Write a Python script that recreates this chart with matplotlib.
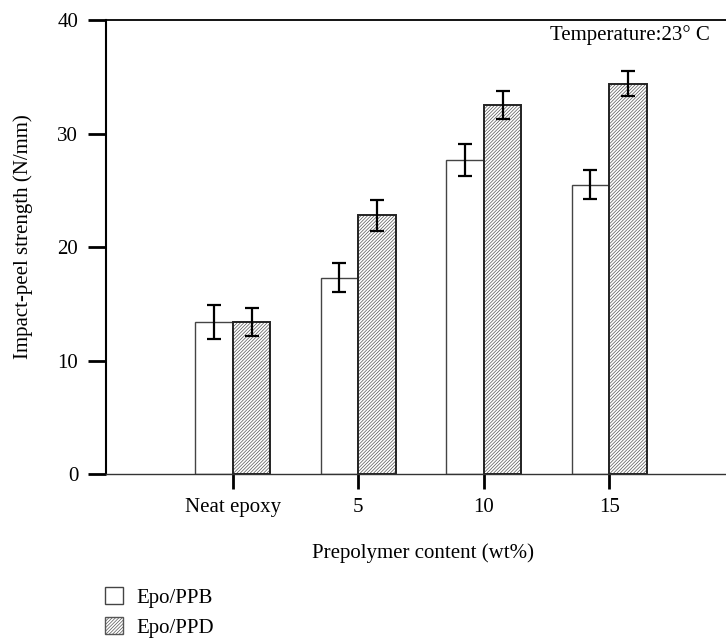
import matplotlib.pyplot as plt
import numpy as np
from matplotlib.patches import Patch

plt.rcParams['font.family'] = ['Liberation Serif', 'DejaVu Serif']
plt.rcParams['hatch.linewidth'] = 0.5

# impact-peel strength (N/mm) vs prepolymer content
groups = ['Neat epoxy', '5', '10', '15']
ppb = [13.4, 17.3, 27.7, 25.5]
ppb_err = [1.5, 1.3, 1.4, 1.25]
ppd = [13.4, 22.8, 32.5, 34.4]
ppd_err = [1.25, 1.35, 1.25, 1.1]

fig = plt.figure(figsize=(7.26, 6.41), dpi=100)
ax = fig.add_axes([0.146, 0.2605, 0.854, 0.7083])

x = np.arange(len(groups))
w = 0.30

ax.bar(x - w / 2, ppb, w, color='white', edgecolor='#444444', linewidth=1.0, zorder=2)
# hatch drawn in grey, dark outline on top
ax.bar(x + w / 2, ppd, w, color='white', edgecolor='#555555', hatch='//////////',
       linewidth=0, zorder=2)
ax.bar(x + w / 2, ppd, w, fill=False, edgecolor='#222222', linewidth=1.4, zorder=2)
ax.errorbar(x - w / 2, ppb, yerr=ppb_err, fmt='none', ecolor='black',
            elinewidth=1.6, capsize=5, capthick=1.6, zorder=3)
ax.errorbar(x + w / 2, ppd, yerr=ppd_err, fmt='none', ecolor='black',
            elinewidth=1.6, capsize=5, capthick=1.6, zorder=3)

ax.set_xlim(-1.01, 3.93)
ax.set_ylim(0, 40)
ax.set_yticks([0, 10, 20, 30, 40])
ax.set_xticks(x)
ax.set_xticklabels(groups)

ax.spines['right'].set_visible(False)
ax.spines['left'].set_linewidth(1.5)
ax.spines['top'].set_linewidth(1.3)
ax.spines['bottom'].set_linewidth(1.0)
ax.spines['bottom'].set_color('#333333')

ax.tick_params(axis='x', direction='out', length=11, width=2.0, labelsize=15, pad=6)
ax.tick_params(axis='y', direction='out', length=13, width=2.0, labelsize=15, pad=7)

ax.set_ylabel('Impact-peel strength (N/mm)', fontsize=15)
ax.yaxis.set_label_coords(-0.117, 0.522)
ax.set_xlabel('Prepolymer content (wt%)', fontsize=15)
ax.xaxis.set_label_coords(0.511, -0.152)

ax.text(0.973, 0.967, 'Temperature:23° C', transform=ax.transAxes,
        ha='right', va='center', fontsize=15)

handles = [Patch(facecolor='white', edgecolor='#444444', linewidth=1.0, label='Epo/PPB'),
           Patch(facecolor='white', edgecolor='#555555', hatch='//////////', linewidth=1.0,
                 label='Epo/PPD')]
fig.legend(handles=handles, loc='upper left', bbox_to_anchor=(0.1446, 0.084),
           frameon=False, fontsize=15, handlelength=0.85, handleheight=0.85,
           handletextpad=0.65, labelspacing=0.45, borderpad=0, borderaxespad=0)

fig.savefig('out.png', dpi=100)
